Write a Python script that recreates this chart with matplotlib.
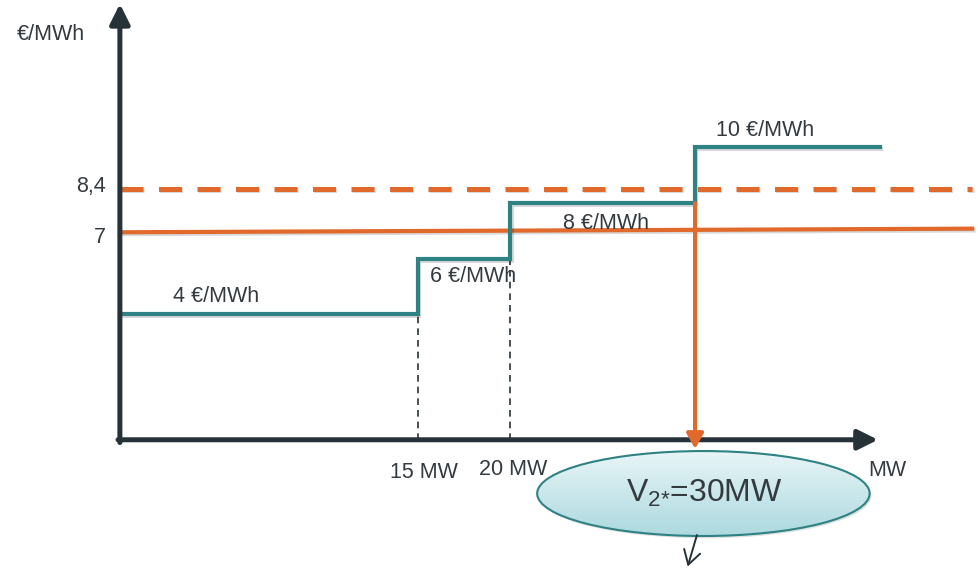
import numpy as np
import matplotlib
matplotlib.use("Agg")
import matplotlib.pyplot as plt
import matplotlib.patheffects as pe
from matplotlib.patches import Ellipse

plt.rcParams["font.family"] = ["Liberation Sans", "DejaVu Sans"]
plt.rcParams["mathtext.fontset"] = "custom"
plt.rcParams["mathtext.rm"] = "Liberation Sans"
plt.rcParams["mathtext.it"] = "Liberation Sans:italic"

# supply steps (MW edges) and their prices (EUR/MWh)
step_edges = [15, 20, 30, 40]
step_prices = [4, 6, 8, 10]
price_dashed = 8.4
price_solid = 7
v2_mw = 30
x_tick_labels = ["15 MW", "20 MW"]
y_tick_labels = ["8,4", "7"]

teal = "#2f8283"
orange = "#e0692b"
dark = "#263238"
txt = "#333b40"

x0 = -1.14   # where the y axis is drawn
y0 = -0.5    # where the x axis is drawn
XL, YL = (-7.63, 45.37), (-5.14, 15.29)

fig = plt.figure(figsize=(9.79, 5.69), dpi=100)
ax = fig.add_axes([0, 0, 1, 1])
ax.set_xlim(*XL)
ax.set_ylim(*YL)
ax.axis("off")

shadow = [pe.SimpleLineShadow(offset=(1.0, -1.3), alpha=0.15), pe.Normal()]

# step curve
xs = [x0] + step_edges
sx, sy = [], []
for i, p in enumerate(step_prices):
    sx += [xs[i], xs[i + 1]]
    sy += [p, p]
ax.plot(sx, sy, color=teal, lw=3.0, solid_joinstyle="miter", path_effects=shadow, zorder=4)

# thin dashed drop lines
for xe, p in zip(step_edges[:3], step_prices[:3]):
    ax.plot([xe, xe], [y0, p], color=dark, lw=1.2, ls=(0, (4, 3)), zorder=3)

# price lines
ax.plot([x0, 45.0], [price_dashed + 0.12, price_dashed + 0.12], color=orange, lw=3.6,
        ls=(0, (4.6, 3.1)), path_effects=shadow, zorder=3)
ax.plot([x0, 45.0], [price_solid - 0.05, price_solid + 0.08], color=orange, lw=3.0,
        path_effects=shadow, zorder=3)

# axes arrows
arr = dict(arrowstyle="-|>,head_length=0.6,head_width=0.3", color=dark, lw=3.6,
           shrinkA=0, shrinkB=0, mutation_scale=20)
ax.annotate("", xy=(x0, 15.15), xytext=(x0, y0 - 0.1), arrowprops=arr, zorder=5)
ax.annotate("", xy=(39.9, y0), xytext=(x0 - 0.1, y0), arrowprops=arr, zorder=5)

# orange arrow at V2*
ax.annotate("", xy=(v2_mw, -0.83), xytext=(v2_mw, step_prices[2]),
            arrowprops=dict(arrowstyle="-|>,head_length=0.45,head_width=0.25",
                            color=orange, lw=3.0, shrinkA=0, shrinkB=0,
                            mutation_scale=20), zorder=6)

# labels
fs = 15.5
ax.text(-6.71, 14.05, "€/MWh", fontsize=fs, color=txt, ha="left", va="center")
ax.text(-1.9, 8.6, y_tick_labels[0], fontsize=fs, color=txt, ha="right", va="center")
ax.text(-1.9, 6.75, y_tick_labels[1], fontsize=fs, color=txt, ha="right", va="center")
ax.text(15.3, -1.68, x_tick_labels[0], fontsize=fs, color=txt, ha="center", va="center")
ax.text(20.15, -1.55, x_tick_labels[1], fontsize=fs, color=txt, ha="center", va="center")
ax.text(39.36, -1.6, "MW", fontsize=fs, color=txt, ha="left", va="center")

price_pos = [(1.73, 4.63), (15.65, 5.38), (22.85, 7.25), (31.13, 10.62)]
for (tx, ty), p in zip(price_pos, step_prices):
    ax.text(tx, ty, f"{p} €/MWh", fontsize=fs, color=txt, ha="left", va="center", zorder=7)

# ellipse with gradient fill
ecx, ecy, ew, eh = 30.45, -2.43, 18.0, 3.05
sh = Ellipse((ecx + 0.1, ecy - 0.08), ew, eh, facecolor="#000000", alpha=0.12,
             edgecolor="none", zorder=7)
ax.add_patch(sh)
ell = Ellipse((ecx, ecy), ew, eh, facecolor="none", edgecolor=teal, lw=1.5, zorder=9)
ax.add_patch(ell)
grad = np.linspace(0, 1, 100).reshape(-1, 1)
im = ax.imshow(grad, cmap=matplotlib.colors.LinearSegmentedColormap.from_list(
    "g", ["#e8f5f7", "#acd9df"]), aspect="auto",
    extent=(ecx - ew / 2, ecx + ew / 2, ecy - eh / 2, ecy + eh / 2),
    origin="upper", zorder=8)
im.set_clip_path(Ellipse((ecx, ecy), ew, eh, transform=ax.transData))
ax.set_xlim(*XL)
ax.set_ylim(*YL)
ax.text(ecx + 0.05, ecy, r"V$_{2{*}}$=30MW", fontsize=23, color=txt,
        ha="center", va="center", zorder=10)

# small hand arrow below
ax.annotate("", xy=(29.6, -5.05), xytext=(30.1, -3.92),
            arrowprops=dict(arrowstyle="->,head_length=0.5,head_width=0.3", color=dark,
                            lw=1.4, shrinkA=0, shrinkB=0, mutation_scale=20), zorder=10)

fig.savefig("out.png", dpi=100)
